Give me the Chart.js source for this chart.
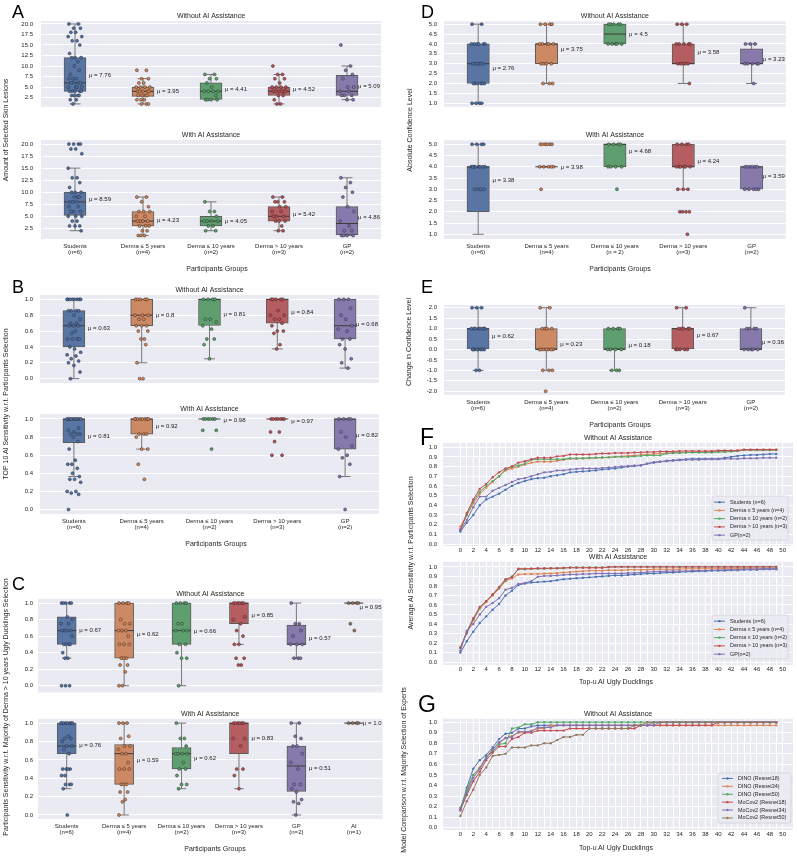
<!DOCTYPE html>
<html>
<head>
<meta charset="utf-8">
<script src="https://cdn.jsdelivr.net/npm/chart.js@4.4.1/dist/chart.umd.min.js"></script>
<style>
  body { margin: 0; background: #fff; width: 797px; height: 856px; position: relative; overflow: hidden;
         font-family: "Liberation Sans", Arial, sans-serif; color: #262626; }
  canvas { position: absolute; }
  .letter { position: absolute; line-height: 1; color: #000; z-index: 2; }
  .ytitle { position: absolute; font-size: 7px; white-space: nowrap; transform: translate(-50%, -50%) rotate(-90deg); z-index: 2; }
  .xtitle { position: absolute; font-size: 7px; white-space: nowrap; transform: translate(-50%, -50%); z-index: 2; will-change: transform; }
</style>
</head>
<body>
<div class="letter" style="left:12px;top:2.8px;font-size:18px">A</div>
<div class="letter" style="left:12px;top:277.8px;font-size:18px">B</div>
<div class="letter" style="left:12px;top:574.8px;font-size:18px">C</div>
<div class="letter" style="left:421px;top:2.8px;font-size:18px">D</div>
<div class="letter" style="left:421px;top:277.8px;font-size:18px">E</div>
<div class="letter" style="left:420px;top:425.5px;font-size:23px">F</div>
<div class="letter" style="left:418px;top:692.5px;font-size:23px">G</div>

<div class="ytitle" style="left:5px;top:130px">Amount of Selected Skin Lesions</div>
<div class="ytitle" style="left:5px;top:404px">TOP 10 AI Sensitivity w.r.t. Participants Selection</div>
<div class="ytitle" style="left:5px;top:707px">Participants Sensitivity w.r.t. Majority of Derma &gt; 10 years Ugly Ducklings Selection</div>
<div class="ytitle" style="left:409px;top:130px">Absolute Confidence Level</div>
<div class="ytitle" style="left:408px;top:342px">Change in Confidence Level</div>
<div class="ytitle" style="left:410px;top:553px">Average AI Sensitivity w.r.t. Participants Selection</div>
<div class="ytitle" style="left:403px;top:770px">Model Comparison w.r.t. Majority Selection of Experts</div>

<div class="xtitle" style="left:217px;top:268px">Participants Groups</div>
<div class="xtitle" style="left:216px;top:543px">Participants Groups</div>
<div class="xtitle" style="left:215px;top:848px">Participants Groups</div>
<div class="xtitle" style="left:620px;top:268px">Participants Groups</div>
<div class="xtitle" style="left:620px;top:424px">Participants Groups</div>
<div class="xtitle" style="left:616px;top:681px">Top-u AI Ugly Ducklings</div>
<div class="xtitle" style="left:616px;top:847px">Top-u AI Ugly Ducklings</div>

<script>
// ---- groups / tick labels ----
const groups = [['Students', '(n=6)'], ['Derma ≤ 5 years', '(n=4)'], ['Derma ≤ 10 years', '(n=2)'], ['Derma > 10 years', '(n=3)'], ['GP', '(n=2)']];
const groupsD = [['Students', '(n=6)'], ['Derma ≤ 5 years', '(n=4)'], ['Derma ≤ 10 years', '(n = 2)'], ['Derma > 10 years', '(n=3)'], ['GP', '(n=2)']];
const groupsC = groups.concat([['AI', '(n=1)']]);
const lineNames = ['Students (n=6)', 'Derma ≤ 5 years (n=4)', 'Derma ≤ 10 years (n=2)', 'Derma > 10 years (n=3)', 'GP(n=2)'];
const modelNames = ['DINO (Resnet18)', 'DINO (Resnet34)', 'DINO (Resnet50)', 'MoCov2 (Resnet18)', 'MoCov2 (Resnet34)', 'MoCov2 (Resnet50)'];

const ticksA = [2.5, 5, 7.5, 10, 12.5, 15, 17.5, 20];
const ticksUnit = [0, 0.2, 0.4, 0.6, 0.8, 1.0];
const ticksD = [1, 1.5, 2, 2.5, 3, 3.5, 4, 4.5, 5];
const ticksE = [-2, -1.5, -1, -0.5, 0, 0.5, 1, 1.5, 2];
const ticksF = [0, 0.1, 0.2, 0.3, 0.4, 0.5, 0.6, 0.7, 0.8, 0.9, 1.0];

// ---- A: amount of selected skin lesions ----
const aNoPts = [
  [20,20,19,19,18,18,17,17,16,16,15,13,12,12,12,11,10,9,8,7,7,7,6,6,6,6,5,5,5,5,4,4,4,4,4,3,3,3,3,2,2,1],
  [9,9,7,7,6,6,5,5,5,5,4,4,4,4,4,3,3,3,3,2,2,2,1,1,1],
  [8,8,7,7,6,5,4,4,4,4,3,2,2,2,2],
  [10,8,8,7,7,6,5,5,5,5,4,4,4,4,4,4,3,3,2,1,1],
  [15,10,9,8,7,5,5,4,4,3,3,3,2,2]
];
// [q1, median, q3, whisker low, whisker high]
const aNoBox = [[4,6,12,1,20],[2.8,4,5,1,7],[2.1,4,6,2,8],[3,4,5,1,8],[3,4,7.8,2,10]];
const aNoMean = [7.76, 3.95, 4.41, 4.52, 5.09];

const aAiPts = [
  [20,20,20,20,19,19,18,15,13,13,12,11,10,10,10,9,9,9,8,8,8,7,7,6,6,6,5,5,5,4,4,3,3,3,2],
  [9,9,8,7,6,6,6,5,5,4,4,4,4,3,3,3,2,2,1,1,1],
  [8,6,6,5,4,4,4,4,3,3,2,2],
  [9,9,8,8,8,7,7,6,6,5,5,5,4,4,4,3,2,2],
  [13,12,11,10,9,7,6,4,3,2,2,1,1,1,1]
];
const aAiBox = [[5.2,8,10,2,15],[3,4,6,1,9],[3,4,5,2,8],[4,5,7,2,9],[1.2,3.5,7,1,13]];
const aAiMean = [8.59, 4.23, 4.05, 5.42, 4.86];

// ---- B: TOP 10 AI sensitivity ----
const bNoPts = [
  [1,1,1,1,1,1,1,1,0.857,0.857,0.857,0.857,0.8,0.75,0.7,0.7,0.667,0.667,0.667,0.6,0.571,0.5,0.5,0.5,0.5,0.4,0.375,0.333,0.3,0.286,0.25,0.222,0.2,0.167,0.083,0],
  [1,1,1,1,1,0.8,0.8,0.8,0.75,0.75,0.667,0.667,0.667,0.6,0.6,0.5,0.5,0.429,0.2,0,0],
  [1,1,1,1,0.75,0.75,0.714,0.667,0.625,0.5,0.5,0.429,0.25],
  [1,1,1,1,1,0.857,0.8,0.8,0.75,0.75,0.7,0.667,0.6,0.6,0.571,0.429,0.375],
  [1,1,1,0.889,0.8,0.75,0.667,0.625,0.6,0.5,0.5,0.429,0.375,0.25,0.2,0.133]
];
const bNoBox = [[0.4,0.667,0.857,0,1],[0.667,0.8,1,0.2,1],[0.67,1,1,0.25,1],[0.7,1,1,0.375,1],[0.5,0.667,1,0.133,1]];
const bNoMean = [0.63, 0.8, 0.81, 0.84, 0.68];

const bAiPts = [
  [1,1,1,1,1,1,1,1,1,1,0.9,0.875,0.857,0.833,0.833,0.833,0.8,0.75,0.667,0.545,0.5,0.5,0.455,0.4,0.364,0.333,0.333,0.3,0.2,0.2,0.182,0.167,0],
  [1,1,1,1,1,1,1,1,0.833,0.833,0.833,0.8,0.667,0.667,0.5,0.333],
  [1,1,1,1,1,1,0.875,0.875,0.667],
  [1,1,1,1,1,1,1,0.857,0.857,0.75,0.6,0.6],
  [1,1,1,1,0.857,0.8,0.7,0.667,0.6,0.571,0.5,0.364,0]
];
const bAiBox = [[0.737,1,1,0.364,1],[0.833,1,1,0.667,1],[1,1,1,1,1],[1,1,1,1,1],[0.667,1,1,0.364,1]];
const bAiMean = [0.81, 0.92, 0.98, 0.97, 0.82];

// ---- C: sensitivity w.r.t. majority of senior dermatologists ----
const cNoPts = [
  [1,1,1,1,1,0.833,0.8,0.75,0.75,0.667,0.667,0.667,0.667,0.6,0.5,0.5,0.5,0.5,0.4,0.333,0.333,0,0,0],
  [1,1,1,1,0.8,0.75,0.75,0.667,0.667,0.667,0.6,0.5,0.5,0.5,0.333,0.333,0.333,0.25,0.25,0.167,0,0],
  [1,1,1,1,0.75,0.75,0.667,0.667,0.667,0.5,0.5,0.4,0.333,0.333,0],
  [1,1,1,1,1,1,0.833,0.8,0.75,0.667,0.6,0.5,0.5,0.333,0.333,0.25,0.25],
  [1,0.75,0.75,0.667,0.6,0.5,0.5,0.5,0.333,0.333,0.333],
  [1,1,1,1,0.75,0.667]
];
const cNoBox = [[0.5,0.667,0.833,0.333,1],[0.333,0.667,1,0,1],[0.5,0.667,1,0,1],[0.75,1,1,0.5,1],[0.5,0.5,0.733,0.333,1],[1,1,1,1,1]];
const cNoMean = [0.67, 0.62, 0.66, 0.85, 0.57, 0.95];

const cAiPts = [
  [1,1,1,1,1,1,1,1,0.857,0.833,0.833,0.8,0.75,0.75,0.714,0.667,0.5,0.5,0.5,0.5,0.429,0.429,0.333,0.333,0.333,0.286,0],
  [1,1,1,0.857,0.833,0.75,0.75,0.714,0.667,0.667,0.571,0.5,0.5,0.5,0.333,0.333,0.333,0.25,0.25,0.167,0.143,0],
  [1,0.833,0.833,0.75,0.667,0.667,0.667,0.667,0.571,0.5,0.5,0.429,0.333,0.333,0.286],
  [1,1,1,1,1,1,0.833,0.833,0.75,0.5,0.5,0.429,0.286],
  [1,1,0.857,0.833,0.75,0.75,0.667,0.571,0.5,0.333,0.333,0.286,0.25,0.167,0.143,0.125,0],
  [1,1,1,1]
];
const cAiBox = [[0.667,0.75,1,0.286,1],[0.333,0.667,0.767,0,1],[0.5,0.667,0.733,0.286,1],[0.667,1,1,0.286,1],[0.257,0.533,0.75,0,1],[1,1,1,1,1]];
const cAiMean = [0.76, 0.59, 0.62, 0.83, 0.51, 1.0];

// ---- D: absolute confidence level ----
const dNoPts = [
  [5,5,4,4,4,4,4,4,3,3,3,3,3,2,2,2,2,2,2,1,1,1,1],
  [5,5,5,5,4,4,4,4,4,3,3,3,3,2,2,2],
  [5,5,5,5,5,4,4,4,4,4],
  [5,5,5,4,4,4,4,4,3,3,3,3,3,2],
  [4,4,4,3,3,3,3,3,2]
];
const dNoBox = [[2,3,4,1,5],[3,4,4,2,5],[4,4.5,5,4,5],[3,3,4,2,5],[3,3,3.75,2,4]];
const dNoMean = [2.76, 3.75, 4.5, 3.58, 3.23];

const dAiPts = [
  [5,5,5,5,4,4,4,4,4,4,4,4,3,3,3,3],
  [5,5,5,5,5,5,4,4,4,4,4,3],
  [5,5,5,5,4,4,4,4,3],
  [5,5,5,5,4,4,4,4,4,4,3,3,3,2,2,2,2,1],
  [4,4,4,4,4,4,3,3,3,3,3]
];
const dAiBox = [[2,4,4,1,5],[4,4,4,4,4],[4,5,5,4,5],[4,4,5,3,5],[3,4,4,3,4]];
const dAiMean = [3.38, 3.98, 4.68, 4.24, 3.59];

// ---- E: change in confidence level ----
const ePts = [
  [2,2,2,1,1,1,1,1,1,1,1,0,0,0,0,0,0,0,0,-1,-1],
  [2,2,1,1,1,1,0,0,0,0,0,0,0,-1,-1,-1,-2],
  [1,1,1,1,0,0,0,0,-1,-1,-1],
  [2,2,1,1,1,1,1,0,0,0,0,0],
  [2,1,1,1,1,0,0,0,0,0]
];
const eBox = [[0,1,1,-1,2],[0,0,1,-1,2],[0,0,1,-1,1],[0,1,1,0,2],[0,0,1,0,2]];
const eMean = [0.62, 0.23, 0.18, 0.67, 0.36];

// ---- F: average AI sensitivity vs top-u (index = u) ----
const fNoStudents = [0.13,0.22,0.30,0.40,0.46,0.49,0.52,0.56,0.60,0.63, 0.65,0.67,0.68,0.685,0.70,0.71,0.72,0.74,0.745,0.75,
  0.755,0.76,0.77,0.775,0.78,0.79,0.80,0.805,0.81,0.83, 0.845,0.85,0.86,0.865,0.87,0.875,0.88,0.88,0.88,0.88,
  0.88,0.89,0.90,0.91,0.915,0.92,0.92,0.925,0.93,0.93];
const fNoD5 = [0.18,0.30,0.42,0.52,0.58,0.64,0.70,0.76,0.78,0.80, 0.82,0.84,0.85,0.85,0.85,0.86,0.87,0.88,0.88,0.885,
  0.885,0.89,0.89,0.895,0.90,0.905,0.91,0.915,0.92,0.925, 0.93,0.935,0.94,0.94,0.945,0.945,0.95,0.95,0.95,0.955,
  0.955,0.96,0.96,0.965,0.97,0.97,0.97,0.97,0.97,0.97];
const fNoD10 = [0.15,0.30,0.44,0.54,0.60,0.65,0.70,0.77,0.80,0.81, 0.83,0.87,0.875,0.875,0.875,0.875,0.875,0.885,0.885,0.885,
  0.89,0.89,0.895,0.895,0.90,0.90,0.90,0.905,0.91,0.915, 0.915,0.915,0.935,0.94,0.94,0.945,0.945,0.945,0.945,0.945,
  0.95,0.95,0.955,0.96,0.97,0.97,0.97,0.97,0.97,0.97];
const fNoD10p = [0.15,0.32,0.46,0.57,0.62,0.69,0.74,0.78,0.80,0.84, 0.855,0.875,0.89,0.89,0.89,0.905,0.91,0.925,0.925,0.925,
  0.925,0.93,0.935,0.935,0.94,0.94,0.94,0.945,0.945,0.95, 0.95,0.955,0.955,0.955,0.96,0.96,0.96,0.96,0.96,0.96,
  0.965,0.965,0.965,0.965,0.975,0.975,0.975,0.975,0.975,0.975];
const fNoGP = [0.14,0.25,0.38,0.49,0.49,0.55,0.58,0.61,0.64,0.67, 0.68,0.70,0.72,0.74,0.745,0.76,0.76,0.77,0.775,0.78,
  0.78,0.78,0.785,0.79,0.795,0.80,0.805,0.81,0.815,0.83, 0.84,0.85,0.855,0.86,0.865,0.87,0.87,0.87,0.875,0.875,
  0.875,0.88,0.88,0.88,0.885,0.885,0.885,0.89,0.89,0.89];

const fAiStudents = [0.10,0.22,0.32,0.41,0.48,0.55,0.61,0.70,0.75,0.81, 0.825,0.835,0.84,0.845,0.85,0.86,0.87,0.875,0.88,0.885,
  0.89,0.895,0.90,0.905,0.91,0.91,0.915,0.92,0.925,0.93, 0.93,0.935,0.94,0.94,0.945,0.95,0.95,0.955,0.955,0.96,
  0.96,0.96,0.965,0.965,0.97,0.97,0.97,0.975,0.975,0.975];
const fAiD5 = [0.16,0.30,0.44,0.56,0.63,0.70,0.77,0.85,0.88,0.92, 0.925,0.925,0.925,0.93,0.93,0.935,0.94,0.945,0.95,0.955,
  0.96,0.96,0.96,0.965,0.965,0.965,0.97,0.97,0.97,0.97, 0.975,0.975,0.975,0.975,0.975,0.98,0.98,0.98,0.98,0.98,
  0.98,0.985,0.985,0.985,0.985,0.985,0.985,0.985,0.985,0.985];
const fAiD10 = [0.15,0.31,0.45,0.57,0.64,0.71,0.78,0.86,0.90,0.975, 0.975,0.98,0.98,0.98,0.985,0.985,0.985,0.995,0.995,0.995,
  0.995,0.995,0.995,0.995,1,1,1,1,1,1, 1,1,1,1,1,1,1,1,1,1, 1,1,1,1,1,1,1,1,1,1];
const fAiD10p = [0.15,0.32,0.46,0.58,0.64,0.71,0.79,0.87,0.89,0.98, 0.98,0.98,0.985,0.985,0.985,0.985,0.99,0.99,0.99,0.99,
  0.99,0.99,0.99,1,1,1,1,1,1,1, 1,1,1,1,1,1,1,1,1,1, 1,1,1,1,1,1,1,1,1,1];
const fAiGP = [0.12,0.33,0.40,0.50,0.58,0.62,0.67,0.76,0.78,0.82, 0.83,0.85,0.895,0.905,0.905,0.91,0.915,0.92,0.92,0.925,
  0.925,0.93,0.93,0.93,0.93,0.93,0.935,0.935,0.94,0.945, 0.95,0.95,0.955,0.955,0.955,0.955,0.96,0.96,0.96,0.965,
  0.965,0.97,0.97,0.97,0.975,0.975,0.975,0.98,0.98,0.98];

// ---- G: model comparison ----
const gDino18 = [0.17,0.38,0.56,0.64,0.69,0.76,0.84,0.89,0.90,0.94, 0.94,0.96,0.97,0.97,0.97,0.97,0.97,0.97,0.97,0.97,
  0.97,0.97,0.97,0.97,0.97,0.97,0.97,0.97,0.97,0.97, 1,1,1,1,1,1,1,1,1,1, 1,1,1,1,1,1,1,1,1,1];
const gDino34 = [0.16,0.35,0.50,0.57,0.67,0.74,0.80,0.85,0.87,0.90, 0.90,0.92,0.94,0.94,0.97,0.97,0.97,0.97,0.97,0.97,
  0.97,0.97,0.97,0.97,0.97,0.97,0.97,0.97,0.97,0.97, 0.97,0.97,0.97,0.97,0.97,0.97,0.97,0.97,0.97,0.97,
  0.97,0.97,0.97,0.97,0.97,0.97,0.97,0.97,0.97,0.97];
const gDino50 = [0.19,0.36,0.50,0.56,0.67,0.72,0.79,0.80,0.94,0.95, 0.98,0.98,1,1,1,1,1,1,1,1,
  1,1,1,1,1,1,1,1,1,1, 1,1,1,1,1,1,1,1,1,1, 1,1,1,1,1,1,1,1,1,1];
const gMoco18 = [0.17,0.31,0.44,0.53,0.64,0.71,0.77,0.77,0.84,0.86, 0.90,0.90,0.92,0.92,0.92,0.92,0.92,0.94,0.94,0.94,
  0.94,0.94,0.94,0.94,0.94,0.94,0.94,0.94,0.97,0.97, 0.97,0.97,0.97,0.97,0.97,0.97,0.97,0.97,0.97,0.97,
  1,1,1,1,1,1,1,1,1,1];
const gMoco34 = [0.17,0.33,0.47,0.56,0.66,0.74,0.81,0.85,0.86,0.91, 0.91,0.91,0.95,0.95,0.95,0.97,0.97,0.97,0.97,0.97,
  0.97,0.97,0.97,0.97,0.97,0.97,0.97,0.97,0.97,0.97, 0.97,1,1,1,1,1,1,1,1,1, 1,1,1,1,1,1,1,1,1,1];
const gMoco50 = [0.11,0.25,0.36,0.50,0.57,0.68,0.69,0.70,0.76,0.76, 0.76,0.78,0.78,0.80,0.80,0.83,0.86,0.86,0.88,0.88,
  0.94,0.94,0.94,0.94,0.94,0.94,0.94,0.97,0.97,1, 1,1,1,1,1,1,1,1,1,1, 1,1,1,1,1,1,1,1,1,1];

// ---- styling ----
const PAL = ['#4C72B0', '#DD8452', '#55A868', '#C44E52', '#8172B3', '#937860'];
const BOXPAL = ['#5875A4', '#CC8963', '#5F9E6E', '#B55D60', '#857AAB', '#8D7866'];
const JIT = [-0.09, 0.05, -0.02, 0.08, -0.06, 0.01, 0.1, -0.1, 0.03, -0.04, 0.07, -0.08, 0.0, 0.09, -0.05, 0.04, -0.01, 0.06, -0.07, 0.02, -0.03];
const FONT = '"Liberation Sans", Arial, sans-serif';
Chart.defaults.font.family = FONT;
Chart.defaults.color = '#262626';

function mkCanvas(left, top, w, h) {
  const c = document.createElement('canvas');
  c.width = w; c.height = h;
  c.style.left = left + 'px'; c.style.top = top + 'px';
  c.style.width = w + 'px'; c.style.height = h + 'px';
  document.body.appendChild(c);
  return c;
}

const bgPlugin = {
  id: 'bg',
  beforeDraw(chart) {
    const { ctx, chartArea: a } = chart;
    ctx.save();
    ctx.fillStyle = '#EAEAF2';
    ctx.fillRect(a.left, a.top, a.right - a.left, a.bottom - a.top);
    ctx.restore();
  }
};

function fixSize(px, horiz) {
  return function (s) {
    if (horiz) s.height = px; else s.width = px;
    s.paddingTop = 0; s.paddingBottom = 0; s.paddingLeft = 0; s.paddingRight = 0;
  };
}

function fmt(m) { return Number.isInteger(m) ? m.toFixed(1) : String(m); }

function boxChart(o) {
  const yW = 41, tH = o.title ? 12 : 5, xH = o.cats ? 24 : 0;
  const n = o.box.length;
  const cv = mkCanvas(o.left - yW, o.top - tH, yW + o.w, tH + o.h + xH);

  const pts = [], cols = [];
  o.pts.forEach((g, i) => g.forEach((v, j) => { pts.push({ x: i + JIT[j % JIT.length], y: v }); cols.push(PAL[i]); }));
  const whisk = [], caps = [], meds = [];
  o.box.forEach((b, i) => {
    whisk.push({ x: i, y: b[3] }, { x: i, y: b[4] }, { x: i, y: null });
    caps.push({ x: i, y: b[3] }, { x: i, y: b[4] });
    meds.push({ x: i, y: b[1] });
  });

  const muPlugin = {
    id: 'mu',
    afterDatasetsDraw(chart) {
      const { ctx, chartArea: a, scales: { x, y } } = chart;
      ctx.save();
      ctx.font = '6px ' + FONT;
      ctx.fillStyle = '#1a1a1a';
      ctx.textBaseline = 'middle';
      o.mean.forEach((m, i) => {
        const t = 'μ = ' + fmt(m);
        const tx = Math.min(x.getPixelForValue(i) + o.half + 3, a.right - ctx.measureText(t).width - 1);
        ctx.fillText(t, tx, y.getPixelForValue(m));
      });
      ctx.restore();
    }
  };

  new Chart(cv, {
    type: 'bar',
    data: {
      datasets: [
        { type: 'bar', data: o.box.map((b, i) => ({ x: i, y: [b[0], b[2]] })), backgroundColor: BOXPAL.slice(0, n),
          borderColor: '#5c5c5c', borderWidth: 1, borderSkipped: false, barThickness: 2 * o.half, grouped: false, order: 3 },
        { type: 'line', data: whisk, borderColor: '#777', borderWidth: 1, pointRadius: 0, spanGaps: false, order: 4 },
        { type: 'line', data: caps, showLine: false, pointStyle: 'line', pointRadius: o.half / 2,
          pointBorderColor: '#777', pointBorderWidth: 1, order: 4 },
        { type: 'line', data: meds, showLine: false, pointStyle: 'line', pointRadius: o.half,
          pointBorderColor: '#3c3c3c', pointBorderWidth: 1, order: 2 },
        { type: 'line', data: pts, showLine: false, pointRadius: 1.5, pointBackgroundColor: cols,
          pointBorderColor: '#2b2b2b', pointBorderWidth: 0.5, order: 1 }
      ]
    },
    options: {
      responsive: false, animation: false, events: [],
      layout: { padding: { top: o.title ? 0 : tH, left: 0, right: 0, bottom: 0 } },
      plugins: {
        legend: { display: false }, tooltip: { enabled: false },
        title: { display: !!o.title, text: o.title, fullSize: false, font: { size: 7, weight: 'normal' },
                 color: '#262626', padding: { top: 1.4, bottom: 1 } }
      },
      scales: {
        x: {
          type: 'linear', min: -0.5, max: n - 0.5, offset: false,
          grid: { display: false, offset: false, drawTicks: false }, border: { display: false },
          afterBuildTicks: s => { s.ticks = o.box.map((b, i) => ({ value: i })); },
          afterFit: fixSize(xH, true),
          ticks: { display: !!o.cats, autoSkip: false, maxRotation: 0, padding: 3.7,
                   font: { size: 6, lineHeight: 1.1 }, callback: (v) => o.cats ? o.cats[v] : '' }
        },
        y: {
          min: o.ymin, max: o.ymax,
          grid: { color: '#ffffff', lineWidth: 1, drawTicks: false }, border: { display: false },
          afterBuildTicks: s => { s.ticks = o.ticks.map(v => ({ value: v })); },
          afterFit: fixSize(yW, false),
          ticks: { padding: o.tpad || 7, font: { size: 6 }, callback: v => v.toFixed(1) }
        }
      }
    },
    plugins: [bgPlugin, muPlugin]
  });
}

function lineChart(o) {
  const yW = 41, tH = 12, xH = 11;
  const cv = mkCanvas(o.left - yW, o.top - tH, yW + o.w, tH + o.h + xH);
  const legendPlugin = {
    id: 'legendBox',
    afterDatasetsDraw(chart) {
      const { ctx, chartArea: a } = chart;
      const L = o.legend;
      const x0 = a.right - L.right - L.w, y0 = a.bottom - L.bottom - L.h;
      ctx.save();
      ctx.fillStyle = 'rgba(234,234,242,0.85)';
      ctx.strokeStyle = '#d2d2dc';
      ctx.lineWidth = 0.8;
      ctx.beginPath();
      ctx.roundRect(x0, y0, L.w, L.h, 2);
      ctx.fill(); ctx.stroke();
      ctx.font = '5.4px ' + FONT;
      ctx.textBaseline = 'middle';
      chart.data.datasets.forEach((d, i) => {
        const y = y0 + L.pad + L.row * (i + 0.5);
        ctx.strokeStyle = d.borderColor; ctx.lineWidth = 1;
        ctx.beginPath(); ctx.moveTo(x0 + L.hx, y); ctx.lineTo(x0 + L.hx + 11, y); ctx.stroke();
        ctx.fillStyle = d.borderColor;
        ctx.beginPath(); ctx.arc(x0 + L.hx + 5.5, y, 1.2, 0, Math.PI * 2); ctx.fill();
        ctx.fillStyle = '#262626';
        ctx.fillText(d.label, x0 + L.tx, y);
      });
      ctx.restore();
    }
  };
  new Chart(cv, {
    type: 'line',
    data: {
      datasets: o.series.map((s, i) => ({
        label: o.names[i], data: s.map((v, k) => ({ x: k, y: v })),
        borderColor: PAL[i], backgroundColor: PAL[i], borderWidth: 1,
        pointRadius: 1.2, pointBorderWidth: 0, pointBackgroundColor: PAL[i], tension: 0, order: -i
      }))
    },
    options: {
      responsive: false, animation: false, events: [],
      layout: { padding: 0 },
      plugins: {
        legend: { display: false }, tooltip: { enabled: false },
        title: { display: true, text: o.title, fullSize: false, font: { size: 7, weight: 'normal' },
                 color: '#262626', padding: { top: 1.4, bottom: 1 } }
      },
      scales: {
        x: {
          type: 'linear', min: -2.7, max: 51.6,
          grid: { color: '#ffffff', lineWidth: 1, drawTicks: false }, border: { display: false },
          afterBuildTicks: s => { const t = []; for (let v = 0; v <= 50; v++) t.push({ value: v }); s.ticks = t; },
          afterFit: fixSize(xH, true),
          ticks: { autoSkip: false, maxRotation: 0, padding: o.xpad, font: { size: 6 },
                   callback: v => (v % 2 === 0 ? String(v) : '') }
        },
        y: {
          min: o.ymin, max: o.ymax,
          grid: { color: '#ffffff', lineWidth: 1, drawTicks: false }, border: { display: false },
          afterBuildTicks: s => { s.ticks = ticksF.map(v => ({ value: v })); },
          afterFit: fixSize(yW, false),
          ticks: { padding: 6, font: { size: 6 }, callback: v => v.toFixed(1) }
        }
      }
    },
    plugins: [bgPlugin, legendPlugin]
  });
}

// ---- left column ----
boxChart({ left: 41, top: 21, w: 352, h: 98, ymin: 0.27, ymax: 20.7, ticks: ticksA, title: 'Without AI Assistance',
           pts: aNoPts, box: aNoBox, mean: aNoMean, half: 11, tpad: 8 });
boxChart({ left: 41, top: 140, w: 352, h: 99, ymin: 0.28, ymax: 20.85, ticks: ticksA, title: 'With AI Assistance',
           cats: groups, pts: aAiPts, box: aAiBox, mean: aAiMean, half: 11, tpad: 8 });
boxChart({ left: 40, top: 295, w: 351, h: 100, ymin: -0.055, ymax: 1.055, ticks: ticksUnit, title: 'Without AI Assistance',
           pts: bNoPts, box: bNoBox, mean: bNoMean, half: 11 });
boxChart({ left: 40, top: 414, w: 351, h: 100, ymin: -0.05, ymax: 1.055, ticks: ticksUnit, title: 'With AI Assistance',
           cats: groups, pts: bAiPts, box: bAiBox, mean: bAiMean, half: 11 });
boxChart({ left: 38, top: 600, w: 355, h: 103, ymin: -0.083, ymax: 1.052, ticks: ticksUnit, title: 'Without AI Assistance',
           pts: cNoPts, box: cNoBox, mean: cNoMean, half: 9.5, tpad: 5 });
boxChart({ left: 38, top: 720, w: 355, h: 99, ymin: -0.044, ymax: 1.047, ticks: ticksUnit, title: 'With AI Assistance',
           cats: groupsC, pts: cAiPts, box: cAiBox, mean: cAiMean, half: 9.5, tpad: 5 });

// ---- right column ----
boxChart({ left: 444, top: 21, w: 354, h: 98, ymin: 0.82, ymax: 5.15, ticks: ticksD, title: 'Without AI Assistance',
           pts: dNoPts, box: dNoBox, mean: dNoMean, half: 11.2 });
boxChart({ left: 444, top: 140, w: 354, h: 99, ymin: 0.79, ymax: 5.18, ticks: ticksD, title: 'With AI Assistance',
           cats: groupsD, pts: dAiPts, box: dAiBox, mean: dAiMean, half: 11.2 });
boxChart({ left: 444, top: 298, w: 353, h: 97, ymin: -2.18, ymax: 2.13, ticks: ticksE, title: null,
           cats: groups, pts: ePts, box: eBox, mean: eMean, half: 11 });

lineChart({ left: 443, top: 444, w: 354, h: 102, ymin: -0.02, ymax: 1.045, title: 'Without AI Assistance', xpad: 0.5,
            series: [fNoStudents, fNoD5, fNoD10, fNoD10p, fNoGP], names: lineNames,
            legend: { w: 76, h: 44, right: 5, bottom: 6, pad: 2, row: 8.25, hx: 2, tx: 18 } });
lineChart({ left: 443, top: 563, w: 354, h: 102, ymin: -0.03, ymax: 1.053, title: 'With AI Assistance', xpad: 1,
            series: [fAiStudents, fAiD5, fAiD10, fAiD10p, fAiGP], names: lineNames,
            legend: { w: 76, h: 44, right: 5, bottom: 6, pad: 2, row: 8.25, hx: 2, tx: 18 } });
lineChart({ left: 443, top: 720, w: 354, h: 110, ymin: -0.022, ymax: 1.032, title: 'Without AI Assistance', xpad: 0.5,
            series: [gDino18, gDino34, gDino50, gMoco18, gMoco34, gMoco50], names: modelNames,
            legend: { w: 73, h: 50, right: 2, bottom: 7, pad: 1.5, row: 7.9, hx: 4, tx: 20 } });
</script>
</body>
</html>
